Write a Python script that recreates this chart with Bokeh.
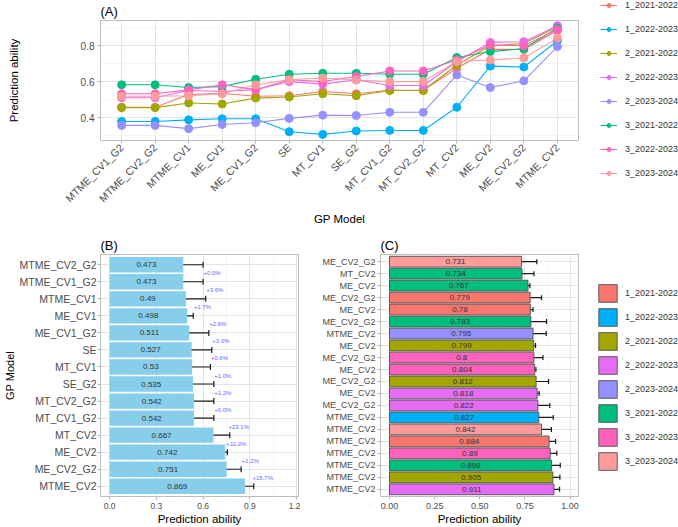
import numpy as np
from bokeh.plotting import figure
from bokeh.layouts import column, row
from bokeh.models import (ColumnDataSource, FactorRange, Range1d, FixedTicker,
                          SingleIntervalTicker, NumeralTickFormatter, Legend,
                          LegendItem, Whisker, TeeHead)
from bokeh.embed import file_html
from bokeh.resources import INLINE
from bokeh.core.properties import value

FONT = "Liberation Sans"

# ---------------- data ----------------
models_a = ["MTME_CV1_G2", "MTME_CV2_G2", "MTME_CV1", "ME_CV1", "ME_CV1_G2", "SE",
            "MT_CV1", "SE_G2", "MT_CV1_G2", "MT_CV2_G2", "MT_CV2", "ME_CV2",
            "ME_CV2_G2", "MTME_CV2"]
groups = ["1_2021-2022", "1_2022-2023", "2_2021-2022", "2_2022-2023",
          "2_2023-2024", "3_2021-2022", "3_2022-2023", "3_2023-2024"]
group_colors = ["#F8766D", "#00B0F6", "#A3A500", "#E76BF3",
                "#9590FF", "#00BF7D", "#FF62BC", "#FF9B9B"]

pa_1_2021 = [0.457, 0.457, 0.528, 0.535, 0.518, 0.521, 0.545, 0.532, 0.552, 0.552, 0.674, 0.780, 0.779, 0.884]
pa_1_2022 = [0.378, 0.378, 0.387, 0.393, 0.393, 0.321, 0.306, 0.325, 0.328, 0.328, 0.457, 0.686, 0.681, 0.827]
pa_2_2021 = [0.455, 0.455, 0.481, 0.475, 0.508, 0.514, 0.532, 0.521, 0.550, 0.550, 0.692, 0.799, 0.812, 0.905]
pa_2_2022 = [0.510, 0.510, 0.550, 0.545, 0.555, 0.600, 0.586, 0.610, 0.578, 0.578, 0.710, 0.818, 0.822, 0.911]
pa_2_2023 = [0.356, 0.356, 0.338, 0.361, 0.371, 0.395, 0.413, 0.411, 0.429, 0.429, 0.637, 0.567, 0.604, 0.795]
pa_3_2021 = [0.582, 0.582, 0.567, 0.572, 0.613, 0.641, 0.646, 0.646, 0.641, 0.641, 0.734, 0.767, 0.783, 0.898]
pa_3_2022 = [0.532, 0.532, 0.554, 0.582, 0.555, 0.610, 0.600, 0.628, 0.659, 0.659, 0.720, 0.804, 0.800, 0.890]
pa_3_2023 = [0.518, 0.518, 0.521, 0.532, 0.582, 0.610, 0.620, 0.609, 0.600, 0.600, 0.712, 0.720, 0.731, 0.842]
series_a = [pa_1_2021, pa_1_2022, pa_2_2021, pa_2_2022, pa_2_2023, pa_3_2021, pa_3_2022, pa_3_2023]

b_models = ["MTME_CV2_G2", "MTME_CV1_G2", "MTME_CV1", "ME_CV1", "ME_CV1_G2", "SE",
            "MT_CV1", "SE_G2", "MT_CV2_G2", "MT_CV1_G2", "MT_CV2", "ME_CV2",
            "ME_CV2_G2", "MTME_CV2"]
b_means = [0.473, 0.473, 0.49, 0.498, 0.511, 0.527, 0.53, 0.535, 0.542, 0.542, 0.667, 0.742, 0.751, 0.869]
b_lower = [0.359, 0.359, 0.376, 0.476, 0.402, 0.410, 0.428, 0.417, 0.428, 0.428, 0.579, 0.736, 0.737, 0.831]
b_upper = [0.600, 0.600, 0.617, 0.537, 0.637, 0.656, 0.647, 0.669, 0.669, 0.669, 0.771, 0.756, 0.844, 0.925]
b_change = ["", "+0.0%", "+3.6%", "+1.7%", "+2.6%", "+3.0%", "+0.6%", "+1.0%",
            "+1.2%", "+0.0%", "+23.1%", "+11.2%", "+1.2%", "+15.7%"]

c_models = ["ME_CV2_G2", "MT_CV2", "ME_CV2", "ME_CV2_G2", "ME_CV2", "ME_CV2_G2",
            "MTME_CV2", "ME_CV2", "ME_CV2_G2", "ME_CV2", "ME_CV2_G2", "ME_CV2",
            "ME_CV2_G2", "MTME_CV2", "MTME_CV2", "MTME_CV2", "MTME_CV2", "MTME_CV2",
            "MTME_CV2", "MTME_CV2"]
c_groups = ["3_2023-2024", "3_2021-2022", "3_2021-2022", "1_2021-2022", "1_2021-2022",
            "3_2021-2022", "2_2023-2024", "2_2021-2022", "3_2022-2023", "3_2022-2023",
            "2_2021-2022", "2_2022-2023", "2_2022-2023", "1_2022-2023", "3_2023-2024",
            "1_2021-2022", "3_2022-2023", "3_2021-2022", "2_2021-2022", "2_2022-2023"]
c_values = [0.731, 0.734, 0.767, 0.779, 0.78, 0.783, 0.795, 0.799, 0.8, 0.804,
            0.812, 0.818, 0.822, 0.827, 0.842, 0.884, 0.89, 0.898, 0.905, 0.911]
c_lower = [0.646, 0.670, 0.755, 0.715, 0.775, 0.698, 0.722, 0.789, 0.750, 0.796,
           0.748, 0.811, 0.763, 0.748, 0.790, 0.849, 0.855, 0.851, 0.874, 0.883]
c_upper = [0.816, 0.800, 0.778, 0.842, 0.795, 0.870, 0.868, 0.809, 0.850, 0.811,
           0.881, 0.829, 0.888, 0.907, 0.897, 0.920, 0.927, 0.946, 0.944, 0.942]


def fmt(v):
    return f"{round(v, 3):g}"


def style(p, title_px=13):
    p.outline_line_color = "#BDBDBD"
    p.title.text_font = FONT
    p.title.text_font_size = f"{title_px}px"
    p.title.text_font_style = "normal"
    p.title.text_color = "black"
    p.title.align = "left"
    p.title.standoff = 3
    for ax in p.axis:
        ax.axis_line_color = None
        ax.major_tick_line_color = "#B3B3B3"
        ax.major_tick_out = 3
        ax.major_tick_in = 0
        ax.minor_tick_line_color = None
        ax.major_label_text_font = FONT
        ax.major_label_text_color = "#4D4D4D"
        ax.major_label_standoff = 2
        ax.axis_label_text_font = FONT
        ax.axis_label_text_font_style = "normal"
        ax.axis_label_text_color = "black"
        ax.axis_label_text_font_size = "11.5px"
        ax.axis_label_standoff = 2
    p.grid.grid_line_color = "#E4E4E4"
    p.grid.grid_line_width = 1


def legend_fig(w, h):
    f = figure(width=w, height=h, output_backend="svg", toolbar_location=None,
               x_range=Range1d(0, 1), y_range=Range1d(0, 1),
               min_border_left=0, min_border_right=0, min_border_top=0,
               min_border_bottom=0)
    f.axis.visible = False
    f.grid.visible = False
    f.outline_line_color = None
    f.frame_align = False
    return f


# ---------------- panel A ----------------
pA = figure(width=595, height=228, output_backend="svg", toolbar_location=None,
            x_range=FactorRange(factors=models_a, range_padding=0.0186,
                                range_padding_units="percent"),
            y_range=Range1d(0.272, 0.94), title="(A)",
            min_border_left=100, min_border_right=17, min_border_top=20,
            min_border_bottom=86)
style(pA)
pA.yaxis.ticker = SingleIntervalTicker(interval=0.2, num_minor_ticks=2)
pA.yaxis.formatter = NumeralTickFormatter(format="0.0")
pA.yaxis.major_label_text_font_size = "10px"
pA.yaxis.axis_label = "Prediction ability"
pA.yaxis.axis_label_standoff = 58
pA.xaxis.major_label_orientation = np.pi / 4
pA.xaxis.major_label_text_font_size = "10.5px"
pA.xaxis.axis_label = "GP Model"
pA.ygrid.minor_grid_line_color = "#F1F1F1"
pA.ygrid.minor_grid_line_width = 0.7

for vals, col in zip(series_a, group_colors):
    src = ColumnDataSource(dict(x=models_a, y=vals))
    pA.line("x", "y", source=src, line_color=col, line_width=1.1)
for vals, col in zip(series_a, group_colors):
    src = ColumnDataSource(dict(x=models_a, y=vals))
    pA.scatter("x", "y", source=src, size=8, fill_color=col, line_color=col)

# legend for A (separate strip to the right)
fLA = legend_fig(83, 228)
itemsA = []
for g, col in zip(groups, group_colors):
    lr = fLA.line(x=[-5, -4], y=[-5, -4], line_color=col, line_width=1.1)
    pr = fLA.scatter(x=[-5], y=[-5], size=8, fill_color=col, line_color=col)
    itemsA.append(LegendItem(label=g, renderers=[lr, pr]))
fLA.add_layout(Legend(items=itemsA, location=(5, 50), padding=0, margin=0, spacing=14,
                      glyph_width=17, glyph_height=10, label_height=10, label_standoff=8,
                      label_text_font=FONT, label_text_font_size="9px",
                      label_text_color="#333333", border_line_color=None,
                      background_fill_alpha=0))

# ---------------- panel B ----------------
rows_b = list(range(1, len(b_models) + 1))
pB = figure(width=300, height=299, output_backend="svg", toolbar_location=None,
            x_range=Range1d(-0.058, 1.212), y_range=Range1d(len(b_models) + 0.6, 0.4),
            title="(B)", min_border_left=100, min_border_right=2,
            min_border_top=26, min_border_bottom=28)
style(pB)
pB.yaxis.ticker = FixedTicker(ticks=rows_b)
pB.yaxis.major_label_overrides = {r: m for r, m in zip(rows_b, b_models)}
pB.yaxis.major_label_text_font_size = "10.5px"
pB.yaxis.major_label_standoff = 1
pB.yaxis.axis_label = "GP Model"
pB.yaxis.axis_label_text_font_size = "11px"
pB.yaxis.axis_label_standoff = 0
pB.xaxis.ticker = SingleIntervalTicker(interval=0.3, num_minor_ticks=2)
pB.xaxis.formatter = NumeralTickFormatter(format="0.0")
pB.xaxis.major_label_text_font_size = "8.5px"
pB.xaxis.axis_label = "Prediction ability"
pB.xaxis.axis_label_standoff = 1
pB.xgrid.minor_grid_line_color = "#F1F1F1"
pB.xgrid.minor_grid_line_width = 0.7

srcB = ColumnDataSource(dict(y=rows_b, right=b_means, half=[v / 2 for v in b_means],
                             lab=[fmt(v) for v in b_means], lower=b_lower, upper=b_upper))
pB.hbar(y="y", right="right", left=0, height=0.9, source=srcB,
        fill_color="#87CEEB", line_color=None)
pB.text(x="half", y="y", text="lab", source=srcB, text_font=value(FONT),
        text_font_size="8px", text_color="#333333", text_align="center",
        text_baseline="middle")
pB.add_layout(Whisker(source=srcB, base="y", lower="lower", upper="upper",
                      dimension="width", line_color="#1A1A1A", line_width=1.2,
                      lower_head=TeeHead(size=6, line_color="#1A1A1A", line_width=1.2),
                      upper_head=TeeHead(size=6, line_color="#1A1A1A", line_width=1.2)))
srcPct = ColumnDataSource(dict(x=b_upper[1:], y=[r - 0.5 for r in rows_b[1:]],
                               t=b_change[1:]))
pB.text(x="x", y="y", text="t", source=srcPct, x_offset=9, text_font=value(FONT),
        text_font_size="6px", text_color="#6666FF", text_align="center",
        text_baseline="middle")

# ---------------- panel C ----------------
rows_c = list(range(1, len(c_models) + 1))
pC = figure(width=283, height=299, output_backend="svg", toolbar_location=None,
            x_range=Range1d(-0.05, 1.047), y_range=Range1d(len(c_models) + 0.6, 0.4),
            title="(C)", min_border_left=80, min_border_right=5,
            min_border_top=26, min_border_bottom=28)
style(pC)
pC.yaxis.ticker = FixedTicker(ticks=rows_c)
pC.yaxis.major_label_overrides = {r: m for r, m in zip(rows_c, c_models)}
pC.yaxis.major_label_text_font_size = "9px"
pC.xaxis.ticker = SingleIntervalTicker(interval=0.25, num_minor_ticks=2)
pC.xaxis.formatter = NumeralTickFormatter(format="0.00")
pC.xaxis.major_label_text_font_size = "9px"
pC.xaxis.axis_label = "Prediction ability"
pC.xaxis.axis_label_standoff = 1
pC.xgrid.minor_grid_line_color = "#F1F1F1"
pC.xgrid.minor_grid_line_width = 0.7

for g, col in zip(groups, group_colors):
    idx = [i for i, gg in enumerate(c_groups) if gg == g]
    src = ColumnDataSource(dict(y=[rows_c[i] for i in idx],
                                right=[c_values[i] for i in idx]))
    pC.hbar(y="y", right="right", left=0, height=0.9, source=src,
            fill_color=col, line_color="#5A5A5A", line_width=1)

srcC = ColumnDataSource(dict(y=rows_c, half=[v / 2 for v in c_values],
                             lab=[fmt(v) for v in c_values], lower=c_lower, upper=c_upper))
pC.text(x="half", y="y", text="lab", source=srcC, text_font=value(FONT),
        text_font_size="8px", text_color="#333333", text_align="center",
        text_baseline="middle")
pC.add_layout(Whisker(source=srcC, base="y", lower="lower", upper="upper",
                      dimension="width", line_color="#1A1A1A", line_width=1.2,
                      lower_head=TeeHead(size=5, line_color="#1A1A1A", line_width=1.2),
                      upper_head=TeeHead(size=5, line_color="#1A1A1A", line_width=1.2)))

# legend for C (separate strip to the right)
fLC = legend_fig(95, 299)
itemsC = []
for g, col in zip(groups, group_colors):
    r = fLC.rect(x=[-5], y=[-5], width=0.1, height=0.1, fill_color=col,
                 line_color="#5A5A5A", line_width=1)
    itemsC.append(LegendItem(label=g, renderers=[r]))
fLC.add_layout(Legend(items=itemsC, location=(13, 55), padding=0, margin=0, spacing=2,
                      glyph_width=23, glyph_height=22, label_height=22, label_standoff=6,
                      label_text_font=FONT, label_text_font_size="9px",
                      label_text_color="#333333", border_line_color=None,
                      background_fill_alpha=0))

layout = column(row(pA, fLA), row(pB, pC, fLC))
open("out.html", "w").write(file_html(layout, INLINE))
